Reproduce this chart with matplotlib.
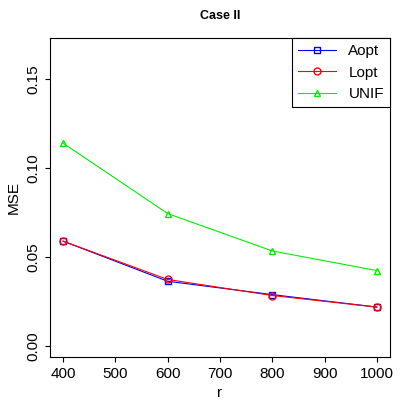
import matplotlib
matplotlib.use('Agg')
import matplotlib.pyplot as plt

r = [400, 600, 800, 1000]
aopt = [0.059, 0.0365, 0.029, 0.022]
lopt = [0.059, 0.0375, 0.0285, 0.022]
unif = [0.114, 0.0745, 0.0535, 0.0425]

plt.rcParams['font.family'] = ['Liberation Sans', 'DejaVu Sans']
fig = plt.figure(figsize=(4.15, 4.15), dpi=100)
ax = fig.add_axes([50/415, 58/415, 340/415, 319/415])

ax.plot(r, aopt, color='blue', marker='s', mfc='none', ms=5, lw=0.8, label='Aopt')
ax.plot(r, lopt, color='red', marker='o', mfc='none', ms=5, lw=0.8, label='Lopt')
ax.plot(r, unif, color='#00ee00', marker='^', mfc='none', ms=5, lw=0.8, label='UNIF')

ax.set_xlim(375, 1025)
ax.set_ylim(-0.006, 0.173)
ax.set_xticks([400, 500, 600, 700, 800, 900, 1000])
ax.set_yticks([0.0, 0.05, 0.10, 0.15])
ax.set_yticklabels(['0.00', '0.05', '0.10', '0.15'], rotation=90, va='center')
ax.tick_params(labelsize=11)
ax.set_xlabel('r', fontsize=11)
ax.set_ylabel('MSE', fontsize=11)
ax.set_title('Case II', fontsize=9, fontweight='bold', pad=14)
leg = ax.legend(loc='upper right', fontsize=11, fancybox=False, framealpha=1,
                edgecolor='black', borderaxespad=0, handlelength=2.5)
leg.get_frame().set_linewidth(0.8)

fig.savefig('out.png', dpi=100)
